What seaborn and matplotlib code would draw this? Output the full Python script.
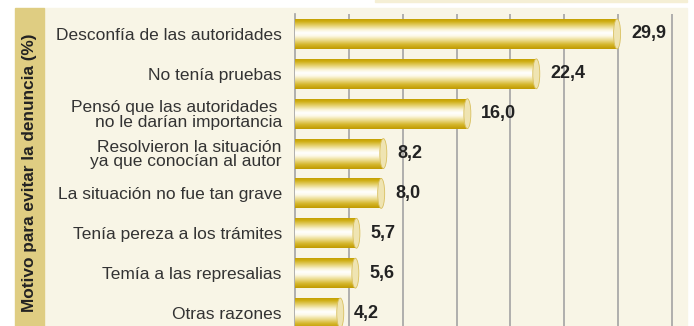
import matplotlib
matplotlib.use("Agg")
import matplotlib.pyplot as plt
from matplotlib.colors import LinearSegmentedColormap
from matplotlib.patches import Rectangle, Ellipse
import numpy as np
import pandas as pd
import seaborn as sns

# Motivos y porcentajes
motivos = [
    "Desconfía de las autoridades",
    "No tenía pruebas",
    "Pensó que las autoridades \nno le darían importancia",
    "Resolvieron la situación\nya que conocían al autor",
    "La situación no fue tan grave",
    "Tenía pereza a los trámites",
    "Temía a las represalias",
    "Otras razones",
]
porcentajes = [29.9, 22.4, 16.0, 8.2, 8.0, 5.7, 5.6, 4.2]
eje_titulo = "Motivo para evitar la denuncia (%)"

df = pd.DataFrame({"motivo": motivos, "pct": porcentajes})

sns.set_theme(style="white")
plt.rcParams["font.family"] = ["Liberation Sans", "DejaVu Sans"]

W, H = 694, 326
fig = plt.figure(figsize=(W / 100, H / 100), dpi=100)
fig.patch.set_facecolor("white")

crema = "#f8f5e6"
dorado_franja = "#dfcd82"

# Fondo crema, franja dorada del título y filete superior
fig.add_artist(Rectangle((44 / W, 0), (687 - 44) / W, 1 - 8 / H,
                         transform=fig.transFigure, color=crema, zorder=-10))
fig.add_artist(Rectangle((15 / W, 0), (44 - 15) / W, 1 - 8 / H,
                         transform=fig.transFigure, color=dorado_franja, zorder=-9))
fig.add_artist(Rectangle((375 / W, 1 - 2 / H), (687 - 375) / W, 2 / H,
                         transform=fig.transFigure, color="#f5efd5", zorder=-9))

ax = fig.add_axes([295 / W, 0, (687 - 295) / W, 1 - 14 / H])
ax.set_facecolor("none")

sns.barplot(data=df, x="pct", y="motivo", orient="h", width=0.75,
            color="#c9a400", ax=ax, zorder=3)

px_por_unidad = (672 - 295) / 35
xmax = (687 - 295) / px_por_unidad
ax.set_xlim(0, xmax)
ax.set_ylim(7 + 13 / 40, -0.5)

# Gradiente cilíndrico de cada barra
stops = [(0.0, "#c4a000"), (0.08, "#cfae14"), (0.22, "#e6d272"),
         (0.36, "#faf4d8"), (0.46, "#ffffff"), (0.56, "#fdf9e8"),
         (0.70, "#ecdc90"), (0.85, "#d5b62c"), (1.0, "#c09a00")]
cmap = LinearSegmentedColormap.from_list("cilindro", stops)
grad = np.linspace(0, 1, 256).reshape(-1, 1)

cap_w = 7 / px_por_unidad
for patch, val in zip(ax.patches, porcentajes):
    x0, y0 = patch.get_x(), patch.get_y()
    w, h = patch.get_width(), patch.get_height()
    im = ax.imshow(grad, cmap=cmap, aspect="auto", interpolation="bilinear",
                   extent=(x0, x0 + w, y0 + h, y0), origin="upper", zorder=3)
    im.set_clip_path(patch)
    patch.set_facecolor("none")
    patch.set_edgecolor("none")
    ax.add_patch(Ellipse((x0 + w, y0 + h / 2), cap_w, h, facecolor="#efe4b2",
                         edgecolor="#d9c060", linewidth=0.6, zorder=4))
    ax.annotate(f"{val:.1f}".replace(".", ","), xy=(x0 + w, y0 + h / 2),
                xytext=(10, 0), textcoords="offset points", va="center",
                ha="left", fontsize=13, fontweight="bold", color="#222222",
                zorder=5)

ax.set_xlim(0, xmax)
ax.set_ylim(7 + 13 / 40, -0.5)

# Rejilla vertical
ax.set_xticks([5, 10, 15, 20, 25, 30, 35])
ax.xaxis.grid(True, color="#a3a3a3", linewidth=1.2, zorder=0)
ax.set_axisbelow(True)
ax.tick_params(axis="x", length=0, labelbottom=False)
ax.tick_params(axis="y", length=0, pad=9.5, labelsize=12.5, labelcolor="#333333")
for lbl in ax.get_yticklabels():
    lbl.set_ha("right")
    lbl.set_linespacing(0.95)
for s in ["top", "right", "bottom"]:
    ax.spines[s].set_visible(False)
ax.spines["left"].set_color("#a3a3a3")
ax.spines["left"].set_linewidth(1.2)
ax.set_xlabel("")
ax.set_ylabel("")

fig.text(29.5 / W, (326 - 172.5) / H, eje_titulo, rotation=90, ha="center",
         va="center", fontsize=12.4, fontweight="bold", color="#222222")

fig.savefig("out.png", dpi=100, facecolor=fig.get_facecolor())
